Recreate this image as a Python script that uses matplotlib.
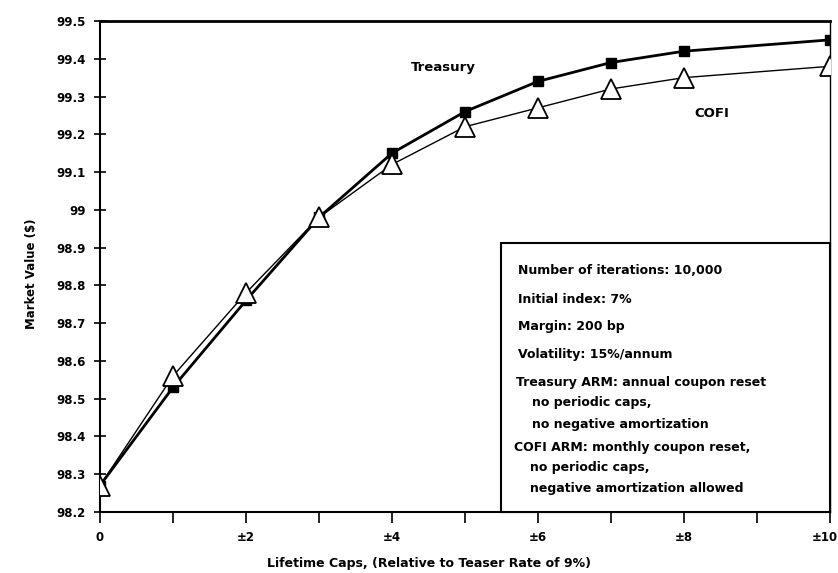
import matplotlib
matplotlib.use('Agg')
import matplotlib.pyplot as plt
import matplotlib.transforms as mtransforms
from matplotlib.patches import Rectangle

# Werte
caps = [0, 1, 2, 3, 4, 5, 6, 7, 8, 10]
treasury = [98.27, 98.53, 98.76, 98.98, 99.15, 99.26, 99.34, 99.39, 99.42, 99.45]
cofi = [98.27, 98.56, 98.78, 98.98, 99.12, 99.22, 99.27, 99.32, 99.35, 99.38]

x_ticks = [0, 2, 4, 6, 8, 10]
x_ticklabels = ['0', '±2', '±4', '±6', '±8', '±10']
y_ticks = [98.2, 98.3, 98.4, 98.5, 98.6, 98.7, 98.8, 98.9, 99.0, 99.1, 99.2, 99.3, 99.4, 99.5]
y_ticklabels = ['98.2', '98.3', '98.4', '98.5', '98.6', '98.7', '98.8', '98.9',
                '99', '99.1', '99.2', '99.3', '99.4', '99.5']

info_lines = [
    ('Number of iterations: 10,000', 0.573, 0.491),
    ('Initial index: 7%', 0.573, 0.432),
    ('Margin: 200 bp', 0.573, 0.377),
    ('Volatility: 15%/annum', 0.573, 0.320),
    ('Treasury ARM: annual coupon reset', 0.570, 0.263),
    ('no periodic caps,', 0.592, 0.222),
    ('no negative amortization', 0.592, 0.179),
    ('COFI ARM: monthly coupon reset,', 0.567, 0.132),
    ('no periodic caps,', 0.589, 0.090),
    ('negative amortization allowed', 0.589, 0.047),
]

plt.rcParams['font.family'] = 'DejaVu Sans'
plt.rcParams['font.weight'] = 'bold'

fig = plt.figure(figsize=(8.38, 5.73), dpi=100)
ax = fig.add_axes([0.1193, 0.1065, 0.8712, 0.8569])

ax.plot(caps, treasury, color='black', lw=2, marker='s', ms=7, zorder=3)
ax.plot(caps, cofi, color='black', lw=1, marker='^', ms=15,
        markerfacecolor='white', markeredgecolor='black', markeredgewidth=1.3, zorder=4)

ax.set_xlim(0, 10)
ax.set_ylim(98.2, 99.5)
ax.set_xticks(range(0, 11))
ax.set_xticklabels([x_ticklabels[x_ticks.index(i)] if i in x_ticks else '' for i in range(0, 11)])
ax.set_yticks(y_ticks)
ax.set_yticklabels(y_ticklabels)
ax.tick_params(axis='x', direction='out', length=8, width=1.2, labelsize=8.5, pad=6)
ax.tick_params(axis='y', direction='inout', length=8, width=1.2, labelsize=8.5, pad=6)

# letztes Label etwas nach links, damit es nicht abgeschnitten wird
last = ax.get_xticklabels()[-1]
last.set_transform(last.get_transform() + mtransforms.ScaledTranslation(-5 / 100, 0, fig.dpi_scale_trans))

ax.spines['top'].set_linewidth(2)
ax.spines['left'].set_linewidth(1.5)
ax.spines['bottom'].set_linewidth(1.5)
ax.spines['right'].set_linewidth(1)

ax.text(4.70, 99.378, 'Treasury', ha='center', va='center', fontsize=9.5)
ax.text(8.38, 99.256, 'COFI', ha='center', va='center', fontsize=9.5)

ax.add_patch(Rectangle((0.549, 0), 0.451, 0.548, transform=ax.transAxes,
                       facecolor='white', edgecolor='black', lw=1.5, zorder=5, clip_on=False))
for txt, tx, ty in info_lines:
    ax.text(tx, ty, txt, transform=ax.transAxes, ha='left', va='center', fontsize=9, zorder=6)

fig.text(0.038, 0.523, 'Market Value ($)', rotation=90, ha='center', va='center', fontsize=8.5)
fig.text(0.512, 0.017, 'Lifetime Caps, (Relative to Teaser Rate of 9%)', ha='center', va='center', fontsize=9)

fig.savefig('out.png', dpi=100)
